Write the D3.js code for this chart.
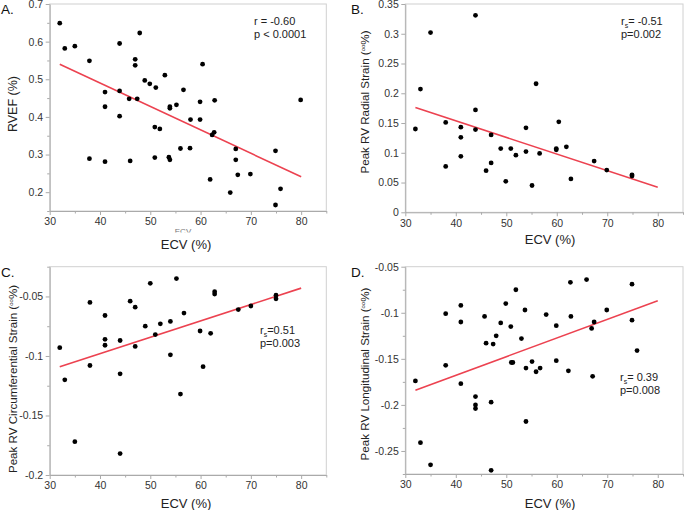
<!DOCTYPE html>
<html>
<head>
<meta charset="utf-8">
<script src="https://cdn.jsdelivr.net/npm/d3@7"></script>
<style>
  html, body { margin: 0; padding: 0; background: #fff; }
  svg { display: block; font-family: "Liberation Sans", Arial, Helvetica, sans-serif; }
</style>
</head>
<body>
<svg id="chart" width="684" height="510"></svg>
<script>
// ---------------- DATA ----------------
const xTicks = [30, 40, 50, 60, 70, 80];
const xMinor = [35, 45, 55, 65, 75, 85];

// Panel A: RVEF vs ECV
const ecvA = [32.0, 33.0, 35.0, 37.9, 37.9, 41.0, 41.0, 41.0, 43.9, 43.9, 43.9, 45.8, 46.0, 47.4, 47.0, 47.0,
  47.9, 48.9, 49.9, 51.1, 50.9, 50.9, 51.9, 52.9, 53.7, 53.9, 53.9, 53.9, 55.2, 56.0, 56.6, 58.0,
  57.9, 59.9, 59.9, 60.4, 61.9, 62.3, 62.7, 62.8, 65.9, 67.0, 67.0, 67.4, 69.9, 74.9, 74.9, 75.9, 79.9];
const rvef = [0.649, 0.582, 0.588, 0.549, 0.289, 0.466, 0.427, 0.281, 0.595, 0.469, 0.402, 0.448, 0.283, 0.448, 0.553, 0.537,
  0.623, 0.497, 0.488, 0.478, 0.373, 0.292, 0.368, 0.511, 0.293, 0.286, 0.427, 0.423, 0.432, 0.316, 0.472, 0.393,
  0.317, 0.393, 0.440, 0.540, 0.234, 0.352, 0.359, 0.444, 0.199, 0.315, 0.286, 0.246, 0.248, 0.310, 0.166, 0.209, 0.445];
const yTicksA = [0.2, 0.3, 0.4, 0.5, 0.6, 0.7];
const yMinorA = [0.15, 0.25, 0.35, 0.45, 0.55, 0.65];
const fitA = [0.540, 0.241];

// Panel B: Peak RV radial strain vs ECV
const ecvB = [32.0, 33.0, 35.0, 38.0, 38.0, 41.0, 41.0, 41.0, 43.9, 43.9, 43.9, 46.0, 47.0, 47.0, 48.9, 49.9,
  50.9, 51.9, 53.9, 53.9, 55.1, 55.9, 56.6, 59.9, 59.9, 60.4, 61.9, 62.8, 67.4, 69.9, 74.9, 74.9];
const radial = [0.140, 0.207, 0.302, 0.151, 0.077, 0.143, 0.126, 0.094, 0.331, 0.172, 0.139, 0.070, 0.130, 0.083, 0.107, 0.052,
  0.107, 0.096, 0.102, 0.142, 0.045, 0.216, 0.099, 0.107, 0.105, 0.152, 0.110, 0.056, 0.086, 0.071, 0.063, 0.061];
const yTicksB = [0, 0.05, 0.1, 0.15, 0.2, 0.25, 0.3, 0.35];
const yMinorB = [];
const fitB = [0.176, 0.042];

// Panel C: Peak RV circumferential strain vs ECV
const ecvC = [32.0, 33.0, 35.0, 38.0, 38.0, 41.0, 41.0, 41.0, 44.0, 44.0, 44.0, 46.0, 47.0, 47.0, 49.0, 50.0,
  51.0, 52.0, 54.0, 54.0, 55.2, 56.0, 56.7, 59.9, 60.5, 62.0, 62.8, 62.8, 67.5, 70.0, 75.0, 75.0];
const circ = [-0.093, -0.120, -0.172, -0.055, -0.108, -0.066, -0.086, -0.091, -0.087, -0.115, -0.182, -0.054, -0.059, -0.092, -0.075, -0.039,
  -0.082, -0.073, -0.071, -0.099, -0.035, -0.132, -0.064, -0.079, -0.109, -0.081, -0.046, -0.048, -0.061, -0.058, -0.049, -0.052];
const yTicksC = [-0.2, -0.15, -0.1, -0.05];
const yMinorC = [-0.175, -0.125, -0.075, -0.025];
const fitC = [-0.109, -0.043];

// Panel D: Peak RV longitudinal strain vs ECV
const ecvD = [32.0, 33.0, 35.0, 38.0, 38.0, 41.0, 41.0, 41.0, 43.9, 43.9, 43.9, 45.7, 46.0, 47.0, 47.0, 47.4,
  48.0, 48.9, 49.9, 50.9, 51.0, 51.3, 51.9, 53.0, 53.7, 53.9, 53.9, 55.1, 55.9, 56.7, 57.9, 59.9,
  59.9, 62.3, 62.7, 62.8, 65.9, 66.9, 67.1, 67.4, 69.9, 74.9, 74.9, 75.9];
const longi = [-0.174, -0.241, -0.265, -0.101, -0.157, -0.092, -0.110, -0.177, -0.191, -0.200, -0.204, -0.104, -0.133, -0.197, -0.271, -0.134,
  -0.125, -0.111, -0.090, -0.115, -0.154, -0.154, -0.075, -0.128, -0.097, -0.160, -0.218, -0.153, -0.164, -0.160, -0.102, -0.114,
  -0.152, -0.163, -0.067, -0.104, -0.064, -0.117, -0.169, -0.110, -0.097, -0.069, -0.108, -0.141];
const yTicksD = [-0.25, -0.2, -0.15, -0.1, -0.05];
const yMinorD = [-0.275, -0.225, -0.175, -0.125, -0.075];
const fitD = [-0.184, -0.087];

const fitX = [32, 80];

// ---------------- LAYOUT ----------------
const panels = [
  { letter: "A.", xs: ecvA, ys: rvef, yDom: [0.15, 0.7], yTicks: yTicksA, yMinor: yMinorA, fit: fitA,
    x0: 49.7, x1: 326.3, yTop: 4, yBot: 211, letterX: 1, letterY: 14,
    yTitle: ["RVEF (%)"], yTitleX: 17, yTitleY: 104, xTitleX: 186, xTitleY: 248.5, ghost: true,
    stats: [{ t: "r = -0.60" }, { t: "p < 0.0001" }], statX: 254, statY: 25 },
  { letter: "B.", xs: ecvB, ys: radial, yDom: [0, 0.35], yTicks: yTicksB, yMinor: yMinorB, fit: fitB,
    x0: 405.3, x1: 683, yTop: 4, yBot: 212.3, letterX: 351, letterY: 14,
    yTitle: ["Peak RV Radial Strain (", "oo", "%)"], yTitleX: 369, yTitleY: 102, xTitleX: 550, xTitleY: 244,
    stats: [{ t: "r", sub: "s", rest: "= -0.51" }, { t: "p=0.002" }], statX: 621, statY: 25 },
  { letter: "C.", xs: ecvC, ys: circ, yDom: [-0.2, -0.025], yTicks: yTicksC, yMinor: yMinorC, fit: fitC,
    x0: 49.7, x1: 326.3, yTop: 266.7, yBot: 475, letterX: 1, letterY: 277,
    yTitle: ["Peak RV Circumferential Strain (", "oo", "%)"], yTitleX: 17, yTitleY: 379, xTitleX: 186, xTitleY: 508,
    stats: [{ t: "r", sub: "s", rest: "=0.51" }, { t: "p=0.003" }], statX: 260, statY: 334 },
  { letter: "D.", xs: ecvD, ys: longi, yDom: [-0.275, -0.05], yTicks: yTicksD, yMinor: yMinorD, fit: fitD,
    x0: 405.3, x1: 683, yTop: 266.7, yBot: 474, letterX: 351, letterY: 277,
    yTitle: ["Peak RV Longitudinal  Strain (", "oo", "%)"], yTitleX: 369, yTitleY: 374, xTitleX: 550, xTitleY: 508,
    stats: [{ t: "r", sub: "s", rest: "= 0.39" }, { t: "p=0.008" }], statX: 620, statY: 381 }
];

const svg = d3.select("#chart");
const fmt = d => String(+(+d).toFixed(3));

panels.forEach((p, pi) => {
  const g = svg.append("g");
  const x = d3.scaleLinear().domain([30, 85]).range([p.x0, p.x1]);
  const y = d3.scaleLinear().domain(p.yDom).range([p.yBot, p.yTop]);

  // frame (top/right light)
  g.append("rect")
    .attr("x", p.x0).attr("y", p.yTop)
    .attr("width", p.x1 - p.x0).attr("height", p.yBot - p.yTop)
    .attr("fill", "none").attr("stroke", "#d0d0d0").attr("stroke-width", 1);

  // minor ticks
  const gxm = g.append("g").attr("transform", `translate(0,${p.yBot})`)
    .call(d3.axisBottom(x).tickValues(xMinor).tickSize(2.5).tickFormat(""));
  const gym = g.append("g").attr("transform", `translate(${p.x0},0)`)
    .call(d3.axisLeft(y).tickValues(p.yMinor).tickSize(2.5).tickFormat(""));
  [gxm, gym].forEach(a => { a.select(".domain").remove(); a.selectAll("line").attr("stroke", "#aaa"); });

  // major axes
  const gx = g.append("g").attr("transform", `translate(0,${p.yBot})`)
    .call(d3.axisBottom(x).tickValues(xTicks).tickSize(4).tickPadding(3).tickSizeOuter(0).tickFormat(fmt));
  const gy = g.append("g").attr("transform", `translate(${p.x0},0)`)
    .call(d3.axisLeft(y).tickValues(p.yTicks).tickSize(4).tickPadding(2.5).tickSizeOuter(0).tickFormat(fmt));
  [gx, gy].forEach(a => {
    a.select(".domain").attr("stroke", "#aaa");
    a.selectAll("line").attr("stroke", "#aaa");
    a.selectAll("text").attr("fill", "#333").style("font-size", "10.5px")
      .style("font-family", "'Liberation Sans', Arial, sans-serif");
  });

  // regression line
  g.append("line")
    .attr("x1", x(fitX[0])).attr("y1", y(p.fit[0]))
    .attr("x2", x(fitX[1])).attr("y2", y(p.fit[1]))
    .attr("stroke", "#ec4250").attr("stroke-width", 1.6);

  // points
  g.selectAll("circle.pt").data(p.xs.map((v, i) => [v, p.ys[i]]))
    .join("circle").attr("class", "pt")
    .attr("cx", d => x(d[0])).attr("cy", d => y(d[1]))
    .attr("r", 2.4).attr("fill", "#000");

  // panel letter
  g.append("text").attr("x", p.letterX).attr("y", p.letterY)
    .style("font-size", "13.5px").attr("fill", "#111").text(p.letter);

  // x title (with the faint clipped "ECV" remnant under panel A's title)
  if (p.ghost) {
    const cid = "ghostclip" + pi;
    svg.append("clipPath").attr("id", cid).append("rect")
      .attr("x", p.xTitleX - 20).attr("y", 226).attr("width", 40).attr("height", 6.5);
    g.append("text").attr("x", p.xTitleX - 3).attr("y", 234).attr("text-anchor", "middle")
      .attr("clip-path", `url(#${cid})`)
      .style("font-size", "8px").attr("fill", "#777").text("ECV");
  }
  g.append("text").attr("x", p.xTitleX).attr("y", p.xTitleY).attr("text-anchor", "middle")
    .style("font-size", "13px").attr("fill", "#222").text("ECV (%)");

  // y title
  const yt = g.append("text").attr("text-anchor", "middle")
    .attr("transform", `translate(${p.yTitleX},${p.yTitleY}) rotate(-90)`)
    .style("font-size", p.yTitle.length > 1 ? "11.6px" : "12.5px").attr("fill", "#222");
  yt.append("tspan").text(p.yTitle[0]);
  if (p.yTitle.length > 1) {
    yt.append("tspan").attr("dy", -4).style("font-size", "6px").text(p.yTitle[1]);
    yt.append("tspan").attr("dy", 4).text(p.yTitle[2]);
  }

  // stats
  p.stats.forEach((s, i) => {
    const t = g.append("text").attr("x", p.statX).attr("y", p.statY + i * 12.5)
      .style("font-size", "11px").attr("fill", "#222");
    t.append("tspan").text(s.t);
    if (s.sub) {
      t.append("tspan").attr("dy", 2.5).style("font-size", "7px").text(s.sub);
      t.append("tspan").attr("dy", -2.5).text(s.rest);
    }
  });
});
</script>
</body>
</html>
